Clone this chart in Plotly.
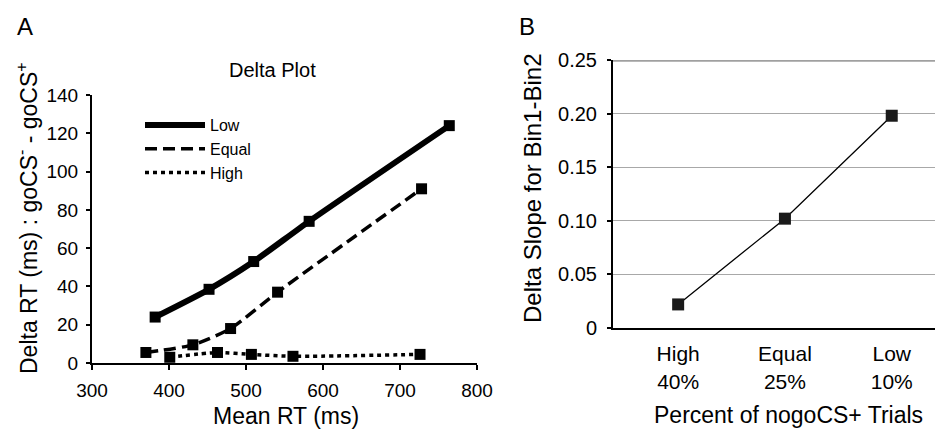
import plotly.graph_objects as go

# Panel A data (Delta plot)
low_x = [382, 452, 510, 582, 764]
low_y = [24, 38.5, 53, 74, 124]
equal_x = [370, 431, 480, 541, 728]
equal_y = [5.5, 9.5, 18, 37, 91]
high_x = [401, 463, 507, 561, 726]
high_y = [3, 5.5, 4.5, 3.5, 4.5]

# Panel B data
b_categories = ["High<br>40%", "Equal<br>25%", "Low<br>10%"]
b_values = [0.022, 0.102, 0.198]

FONT = "Liberation Sans, Arial, sans-serif"
PAGE_W, PAGE_H = 943, 430
OFF = 8  # default body margin of the html page
W, H = PAGE_W - OFF, PAGE_H - OFF

fig = go.Figure()

series = [
    ("Low", low_x, low_y, dict(color="black", width=6, dash="solid")),
    ("Equal", equal_x, equal_y, dict(color="black", width=3.5, dash="12px,6px")),
    ("High", high_x, high_y, dict(color="black", width=3.5, dash="4px,4px")),
]
for name, xs, ys, ln in series:
    fig.add_trace(go.Scatter(x=xs, y=ys, mode="lines", name=name,
                             line=dict(shape="spline", smoothing=0.6, **ln),
                             xaxis="x", yaxis="y", showlegend=True))
for name, xs, ys, ln in series:
    fig.add_trace(go.Scatter(x=xs, y=ys, mode="markers", name=name,
                             marker=dict(symbol="square", size=11, color="black"),
                             xaxis="x", yaxis="y", showlegend=False))

fig.add_trace(go.Scatter(x=b_categories, y=b_values, mode="lines+markers",
                         line=dict(color="black", width=1.3),
                         marker=dict(symbol="square", size=12, color="#1a1a1a"),
                         xaxis="x2", yaxis="y2", showlegend=False))

def px_x(p):
    return (p - OFF) / W

def px_y(p):
    return 1 - (p - OFF) / H

fig.update_layout(
    width=W, height=H,
    margin=dict(l=0, r=0, t=0, b=0, autoexpand=False),
    paper_bgcolor="white", plot_bgcolor="white",
    font=dict(family=FONT, color="black", size=18),
    xaxis=dict(domain=[px_x(92), px_x(477)], range=[300, 800], dtick=100,
               showgrid=False, zeroline=False, showline=True, linecolor="black",
               linewidth=2, ticks="outside", ticklen=5, tickcolor="black",
               tickwidth=1.5, tickfont=dict(size=19), ticklabelstandoff=4,
               anchor="y", automargin=False),
    yaxis=dict(domain=[px_y(363), px_y(95)], range=[0, 140], dtick=20,
               showgrid=False, zeroline=False, showline=True, linecolor="black",
               linewidth=2, ticks="outside", ticklen=4, tickcolor="black",
               tickwidth=1.5, tickfont=dict(size=19), ticklabelstandoff=4,
               anchor="x", automargin=False),
    xaxis2=dict(domain=[px_x(613), 1.0], type="category", range=[-0.61, 2.48],
                showgrid=False, zeroline=False, showline=True, linecolor="black",
                linewidth=2, ticks="", tickfont=dict(size=21), anchor="y2",
                ticklabelstandoff=6, automargin=False),
    yaxis2=dict(domain=[px_y(328), px_y(60)], range=[0, 0.25],
                tickvals=[0, 0.05, 0.10, 0.15, 0.20, 0.25],
                ticktext=["0", "0.05", "0.10", "0.15", "0.20", "0.25"],
                showgrid=True, gridcolor="#a8a8a8", gridwidth=1,
                zeroline=False, showline=True, linecolor="black", linewidth=2,
                ticks="outside", ticklen=4, tickcolor="black", tickwidth=1.5,
                tickfont=dict(size=20), ticklabelstandoff=6, anchor="x2",
                automargin=False),
    legend=dict(x=px_x(140), y=px_y(108), xanchor="left", yanchor="top",
                bgcolor="rgba(0,0,0,0)", font=dict(size=16),
                itemwidth=60, tracegroupgap=0),
)

# thicker top border line of panel B at 0.25
fig.add_shape(type="line", xref="x2 domain", yref="y2", x0=0, x1=1, y0=0.25, y1=0.25,
              line=dict(color="#a0a0a0", width=3.5))

annos = [
    dict(text="A", x=px_x(25), y=px_y(27), font=dict(size=24)),
    dict(text="B", x=px_x(527), y=px_y(27), font=dict(size=24)),
    dict(text="Delta Plot", x=px_x(272), y=px_y(70), font=dict(size=20)),
    dict(text="Mean RT (ms)", x=px_x(286), y=px_y(416), font=dict(size=23)),
    dict(text="Percent of nogoCS+ Trials", x=px_x(788), y=px_y(415), font=dict(size=23)),
    dict(text="Delta RT (ms) : goCS<sup>-</sup> - goCS<sup>+</sup>", x=px_x(27), y=px_y(218),
         textangle=-90, font=dict(size=23)),
    dict(text="Delta Slope for Bin1-Bin2", x=px_x(532), y=px_y(189),
         textangle=-90, font=dict(size=24)),
]
for a in annos:
    fig.add_annotation(xref="paper", yref="paper", showarrow=False,
                       xanchor="center", yanchor="middle", **a)

fig.write_html("out.html")
